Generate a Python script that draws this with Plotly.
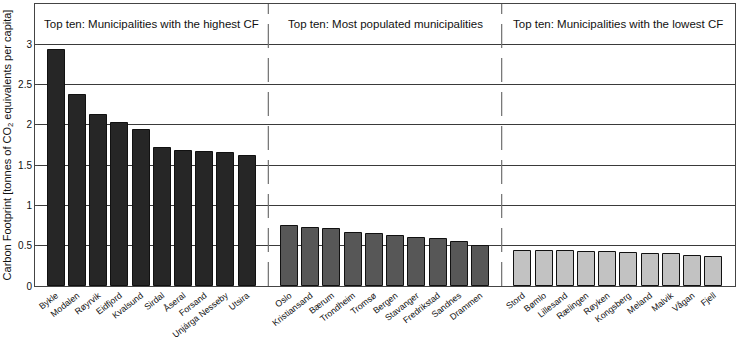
import plotly.graph_objects as go

high_names = ["Bykle", "Modalen", "Røyrvik", "Eidfjord", "Kvalsund", "Sirdal", "Åseral", "Forsand", "Unjárga Nesseby", "Utsira"]
high_vals = [2.93, 2.365, 2.12, 2.02, 1.94, 1.715, 1.67, 1.66, 1.65, 1.615]

pop_names = ["Oslo", "Kristiansand", "Bærum", "Trondheim", "Tromsø", "Bergen", "Stavanger", "Fredrikstad", "Sandnes", "Drammen"]
pop_vals = [0.745, 0.72, 0.71, 0.66, 0.65, 0.625, 0.595, 0.583, 0.55, 0.50]

low_names = ["Stord", "Bømlo", "Lillesand", "Rælingen", "Røyken", "Kongsberg", "Meland", "Malvik", "Vågan", "Fjell"]
low_vals = [0.435, 0.434, 0.43, 0.42, 0.418, 0.405, 0.40, 0.397, 0.367, 0.36]

group_titles = ["Top ten: Municipalities with the highest CF",
                "Top ten: Most populated municipalities",
                "Top ten: Municipalities with the lowest CF"]
colors = ["#262626", "#575757", "#c2c2c2"]

FONT = "Liberation Sans, Arial, sans-serif"

fig = go.Figure()
groups = [(high_names, high_vals), (pop_names, pop_vals), (low_names, low_vals)]
tickvals, ticktext = [], []
for gi, (names, vals) in enumerate(groups):
    offset = gi * 11
    xs = [offset + i for i in range(len(names))]
    tickvals += xs
    ticktext += names
    fig.add_trace(go.Bar(
        x=xs, y=vals, width=0.8,
        marker=dict(color=colors[gi], line=dict(color="#111111", width=1)),
        showlegend=False, hoverinfo="y"
    ))
    fig.add_annotation(x=offset + 4.5, y=3.25, text=group_titles[gi], showarrow=False,
                       font=dict(family=FONT, size=11.5, color="#111111"))

for xd in [10, 21]:
    fig.add_shape(type="line", x0=xd, x1=xd, y0=0, y1=1, xref="x", yref="paper",
                  line=dict(color="#707070", width=1.2, dash="24px,10px"))

fig.update_layout(
    width=737, height=337,
    margin=dict(l=35, r=2, t=4, b=51),
    plot_bgcolor="white", paper_bgcolor="white",
    bargap=0,
    font=dict(family=FONT, size=10, color="#111111"),
)
fig.update_xaxes(
    range=[-1, 32], tickmode="array", tickvals=tickvals, ticktext=ticktext,
    tickangle=-38, tickfont=dict(size=8.8, family=FONT),
    showgrid=False, showline=True, linecolor="#444444", linewidth=1, mirror=True,
    ticks="", zeroline=False, automargin=False,
)
fig.update_yaxes(
    range=[0, 3.5], tickmode="array", tickvals=[0, 0.5, 1, 1.5, 2, 2.5, 3, 3.5],
    ticktext=["0", "0.5", "1", "1.5", "2", "2.5", "3", "3.5"],
    tickfont=dict(size=10, family=FONT), ticks="inside", ticklen=3, tickcolor="#444444",
    showgrid=True, gridcolor="#3a3a3a", gridwidth=1,
    showline=True, linecolor="#444444", linewidth=1, mirror=True, zeroline=False,
    automargin=False,
    title=dict(text="Carbon Footprint [tonnes of CO<sub>2</sub> equivalents per capita]",
               font=dict(size=11, family=FONT), standoff=4),
)

fig.write_html("out.html")
